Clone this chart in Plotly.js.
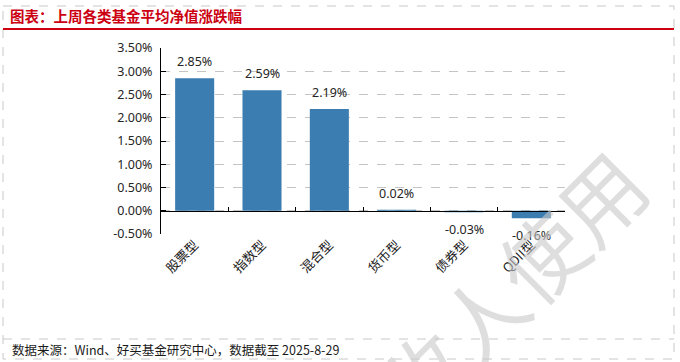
<!DOCTYPE html>
<html>
<head>
<meta charset="utf-8">
<script src="https://cdn.plot.ly/plotly-3.0.1.min.js"></script>
<style>html,body{margin:0;padding:0;background:#fff;}#chart{width:680px;height:362px;}</style>
</head>
<body>
<div id="chart"></div>
<script>
const categories = ["股票型", "指数型", "混合型", "货币型", "债券型", "QDII型"];
const returnsPct = [2.85, 2.59, 2.19, 0.02, -0.03, -0.16];
const yTickValues = [-0.5, 0, 0.5, 1, 1.5, 2, 2.5, 3, 3.5];
const titleText = "图表：上周各类基金平均净值涨跌幅";
const sourceText = "数据来源：Wind、好买基金研究中心，数据截至 2025-8-29";
const watermarkText = "接收人使用";

const W = 680, H = 362;
const L = 161, R = 565, T = 48, B = 234;
const px = x => (x - L) / (R - L);
const py = y => (B - y) / (B - T);

const FONT = "'Noto Sans', 'Noto Sans CJK SC', sans-serif";
const CJK = "'Noto Sans CJK SC', sans-serif";

const traces = [
  {
    type: "bar",
    x: categories,
    y: returnsPct,
    marker: {color: "#3b7db0"},
    hoverinfo: "skip"
  },
  {
    type: "scatter",
    mode: "none",
    x: categories,
    y: returnsPct,
    xaxis: "x2",
    yaxis: "y",
    hoverinfo: "skip",
    showlegend: false
  }
];

const valueLabels = categories.map((c, i) => ({
  text: returnsPct[i].toFixed(2) + "%",
  xref: "x", yref: "y", x: c, y: returnsPct[i],
  xanchor: "center",
  yanchor: returnsPct[i] >= 0 ? "bottom" : "top",
  yshift: returnsPct[i] >= 0 ? 6 : -7,
  showarrow: false,
  font: {family: FONT, size: 12.5, color: "#262626"}
}));

const layout = {
  width: W, height: H,
  margin: {l: L, r: W - R, t: T, b: H - B, pad: 0},
  paper_bgcolor: "#ffffff",
  plot_bgcolor: "#ffffff",
  showlegend: false,
  bargap: 0.42,
  font: {family: FONT, size: 12, color: "#262626"},
  title: {
    text: "<b>" + titleText + "</b>",
    font: {family: CJK, size: 14.5, color: "#cc0011"},
    x: 10 / W, xanchor: "left", xref: "container",
    y: 1 - 17 / H, yanchor: "middle", yref: "container"
  },
  xaxis: {
    type: "category",
    range: [-0.5, categories.length - 0.5],
    showline: false, showgrid: false, zeroline: false,
    ticks: "", tickangle: -45,
    tickfont: {family: CJK, size: 13, color: "#1a1a1a"}
  },
  xaxis2: {
    type: "category",
    overlaying: "x",
    matches: "x",
    anchor: "free",
    position: (0 - (-0.5)) / 4,
    showline: true, linecolor: "#000000", linewidth: 1,
    tickson: "boundaries", ticks: "inside", ticklen: 4, tickcolor: "#000000",
    showticklabels: false, showgrid: false, zeroline: false
  },
  yaxis: {
    range: [-0.5, 3.5],
    tickvals: yTickValues,
    ticktext: yTickValues.map(v => v.toFixed(2) + "%"),
    showline: true, linecolor: "#000000", linewidth: 1,
    ticks: "inside", ticklen: 5, tickcolor: "#000000",
    ticklabelstandoff: 5,
    showgrid: true, gridcolor: "#c4c4c4", griddash: "dash", gridwidth: 1,
    zeroline: false,
    tickfont: {family: FONT, size: 12.5, color: "#262626"}
  },
  shapes: [
    {type: "rect", xref: "paper", yref: "paper", x0: px(3), x1: px(674), y0: py(6), y1: py(359),
     line: {color: "#c8c8c8", width: 1, dash: "dash"}, layer: "below"},
    {type: "line", xref: "paper", yref: "paper", x0: px(3), x1: px(674), y0: py(339), y1: py(339),
     line: {color: "#c8c8c8", width: 1, dash: "dash"}, layer: "below"},
    {type: "line", xref: "paper", yref: "paper", x0: px(3), x1: px(674), y0: py(29), y1: py(29),
     line: {color: "#cc0011", width: 2}}
  ],
  annotations: valueLabels.concat([
    {text: sourceText, xref: "paper", yref: "paper", x: px(10), y: py(349),
     xanchor: "left", yanchor: "middle", showarrow: false,
     font: {family: CJK, size: 12.5, color: "#1a1a1a"}},
    {text: watermarkText, xref: "paper", yref: "paper", x: px(480), y: py(314),
     xanchor: "center", yanchor: "middle", showarrow: false, textangle: -45,
     font: {family: CJK, size: 84, color: "rgba(200,200,200,0.6)"}}
  ])
};

Plotly.newPlot("chart", traces, layout, {staticPlot: true, displayModeBar: false});
</script>
</body>
</html>
